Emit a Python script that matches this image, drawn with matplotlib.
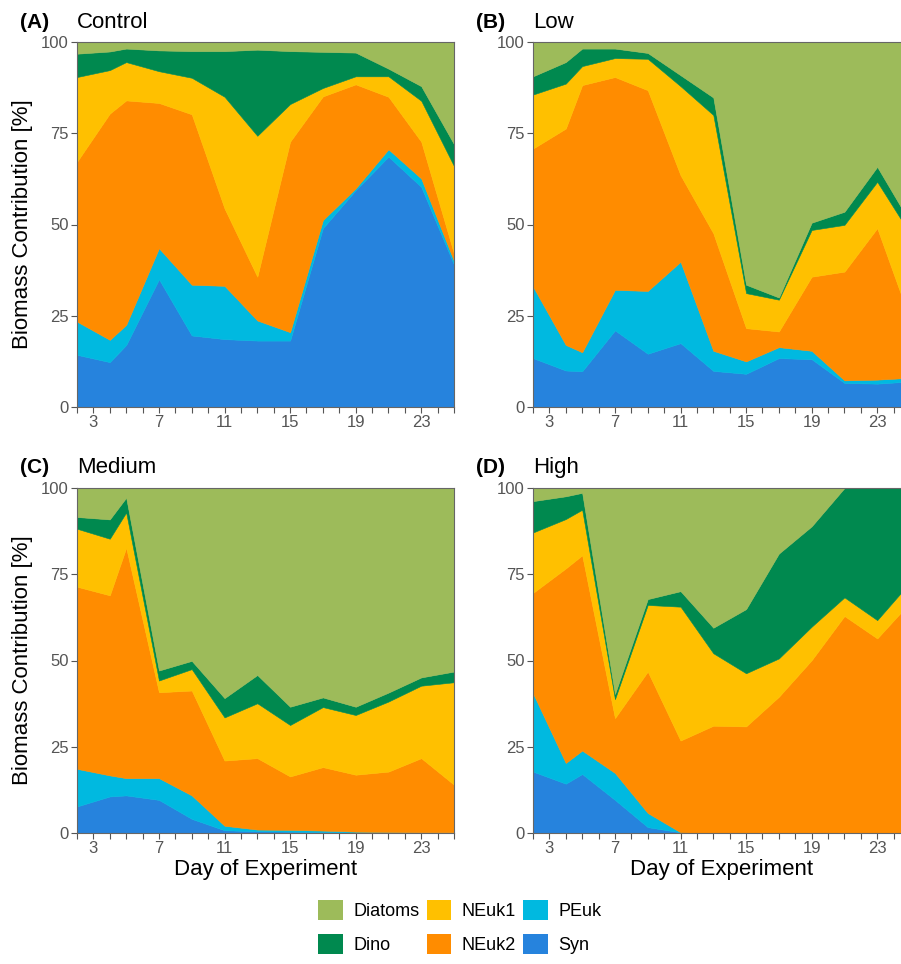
"""
Stacked biomass contribution (%) of six phytoplankton groups over the
experiment, one panel per treatment (Control / Low / Medium / High).
"""
import matplotlib
matplotlib.use("Agg")
import matplotlib.pyplot as plt
from matplotlib.patches import Patch
from matplotlib.ticker import MultipleLocator, FixedLocator

plt.rcParams["font.family"] = ["Liberation Sans", "DejaVu Sans"]

# sampling days
days = [2, 4, 5, 7, 9, 11, 13, 15, 17, 19, 21, 23, 25]

taxa = ["Syn", "PEuk", "NEuk2", "NEuk1", "Dino", "Diatoms"]
colors = {
    "Diatoms": "#9dbb5a",
    "Dino": "#00894f",
    "NEuk1": "#ffc000",
    "NEuk2": "#ff8c00",
    "PEuk": "#00b9e0",
    "Syn": "#2683dd",
}

# (A) Control
syn_control = [14.3, 12.3, 17.0, 35.0, 19.6, 18.6, 18.2, 18.2, 49.0, 59.4, 68.6, 60.3, 39.0]
peuk_control = [9.1, 6.1, 5.5, 8.5, 13.9, 14.6, 5.5, 2.3, 2.2, 0.5, 2.0, 2.3, 1.0]
neuk2_control = [43.8, 62.0, 61.5, 39.8, 46.7, 21.2, 12.0, 52.2, 33.9, 28.5, 14.4, 10.1, 2.0]
neuk1_control = [23.2, 11.9, 10.5, 8.7, 10.0, 30.6, 38.6, 10.3, 2.3, 2.2, 5.6, 11.2, 24.0]
dino_control = [6.4, 5.1, 3.7, 5.7, 7.3, 12.5, 23.6, 14.5, 9.9, 6.5, 2.1, 4.0, 6.0]
diatoms_control = [3.2, 2.6, 1.8, 2.3, 2.5, 2.5, 2.1, 2.5, 2.7, 2.9, 7.3, 12.1, 28.0]

# (B) Low
syn_low = [13.4, 10.0, 9.8, 21.0, 14.6, 17.5, 9.9, 9.1, 13.4, 13.1, 6.6, 6.4, 7.0]
peuk_low = [19.6, 7.0, 5.2, 11.1, 17.2, 22.3, 5.5, 3.4, 3.0, 2.3, 0.7, 1.1, 1.0]
neuk2_low = [37.8, 59.3, 73.2, 58.3, 55.0, 23.7, 32.2, 9.1, 4.3, 20.3, 29.8, 41.5, 16.0]
neuk1_low = [14.8, 12.3, 5.2, 5.2, 8.6, 24.4, 32.4, 9.6, 8.7, 12.8, 12.8, 12.7, 23.5]
dino_low = [5.0, 5.9, 4.8, 2.6, 1.6, 3.0, 4.8, 2.3, 0.6, 2.0, 3.6, 4.1, 3.1]
diatoms_low = [9.4, 5.5, 1.8, 1.8, 3.0, 9.1, 15.2, 66.5, 70.0, 49.5, 46.5, 34.2, 49.4]

# (C) Medium
syn_medium = [7.7, 10.6, 10.9, 9.6, 4.1, 0.8, 0.5, 0.4, 0.3, 0.1, 0.0, 0.0, 0.0]
peuk_medium = [10.9, 6.1, 5.0, 6.3, 6.8, 1.3, 0.5, 0.5, 0.4, 0.3, 0.3, 0.2, 0.2]
neuk2_medium = [52.8, 52.2, 66.8, 24.9, 30.4, 18.9, 20.7, 15.5, 18.4, 16.5, 17.5, 21.5, 13.8]
neuk1_medium = [16.8, 16.4, 10.2, 3.4, 6.2, 12.5, 15.9, 14.9, 17.4, 17.3, 20.3, 21.0, 29.7]
dino_medium = [3.4, 5.6, 4.3, 2.9, 2.4, 5.6, 8.2, 5.3, 2.8, 2.4, 2.6, 2.4, 3.1]
diatoms_medium = [8.4, 9.1, 2.8, 52.9, 50.1, 60.9, 54.2, 63.4, 60.7, 63.4, 59.3, 54.9, 53.2]

# (D) High
syn_high = [17.8, 14.3, 17.1, 9.6, 1.7, 0.2, 0.0, 0.0, 0.0, 0.0, 0.0, 0.0, 0.0]
peuk_high = [22.7, 6.0, 6.8, 7.8, 4.1, 0.0, 0.0, 0.0, 0.0, 0.0, 0.0, 0.0, 0.0]
neuk2_high = [29.1, 56.4, 56.6, 15.9, 41.0, 26.6, 31.1, 30.9, 39.5, 50.1, 62.9, 56.4, 66.8]
neuk1_high = [17.5, 14.3, 13.2, 5.5, 19.3, 38.8, 21.0, 15.4, 11.1, 9.7, 5.4, 5.3, 5.8]
dino_high = [9.1, 6.6, 4.9, 1.5, 1.7, 4.5, 7.4, 18.6, 30.4, 29.1, 31.7, 38.3, 27.4]
diatoms_high = [3.8, 2.4, 1.4, 59.7, 32.2, 29.9, 40.5, 35.1, 19.0, 11.1, 0.0, 0.0, 0.0]

panels = [
    ("(A)", "Control", [syn_control, peuk_control, neuk2_control, neuk1_control, dino_control, diatoms_control]),
    ("(B)", "Low", [syn_low, peuk_low, neuk2_low, neuk1_low, dino_low, diatoms_low]),
    ("(C)", "Medium", [syn_medium, peuk_medium, neuk2_medium, neuk1_medium, dino_medium, diatoms_medium]),
    ("(D)", "High", [syn_high, peuk_high, neuk2_high, neuk1_high, dino_high, diatoms_high]),
]

W, H = 901, 964
fig = plt.figure(figsize=(W / 100, H / 100), dpi=100)

# axes boxes in pixels: left, top, right, bottom (right column runs past the edge)
boxes = [
    (77, 42, 454, 407),
    (533, 42, 910, 407),
    (77, 488, 454, 833),
    (533, 488, 910, 833),
]

GREY = "#555555"
for i, ((tag, name, series), (l, t, r, b)) in enumerate(zip(panels, boxes)):
    ax = fig.add_axes([l / W, 1 - b / H, (r - l) / W, (b - t) / H])
    ax.stackplot(days, *series, colors=[colors[k] for k in taxa],
                 edgecolor="face", linewidth=0.4)
    ax.set_xlim(2, 25)
    ax.set_ylim(0, 100)
    ax.xaxis.set_major_locator(FixedLocator([3, 7, 11, 15, 19, 23]))
    ax.xaxis.set_minor_locator(MultipleLocator(1))
    ax.set_yticks([0, 25, 50, 75, 100])
    ax.tick_params(axis="both", which="both", colors="#555555", labelcolor=GREY,
                   labelsize=12, length=4, width=0.8, pad=2)
    for sp in ax.spines.values():
        sp.set_color("#666666")
        sp.set_linewidth(0.8)

    ty = 1 - (22 if i < 2 else 467) / H
    fig.text((l - 57) / W, ty, tag, fontsize=15, fontweight="bold", va="center")
    fig.text(l / W, ty, name, fontsize=16, va="center")

    if i % 2 == 0:
        ax.set_ylabel("Biomass Contribution [%]", fontsize=16, labelpad=6)
    if i >= 2:
        ax.set_xlabel("Day of Experiment", fontsize=16, labelpad=2)

legend_order = ["Diatoms", "Dino", "NEuk1", "NEuk2", "PEuk", "Syn"]
handles = [Patch(facecolor=colors[k], edgecolor="none", label=k) for k in legend_order]
fig.legend(handles=handles, ncol=3, loc="center", bbox_to_anchor=(460 / W, 1 - 927 / H),
           frameon=False, fontsize=13, handlelength=1.35, handleheight=1.35,
           handletextpad=0.6, columnspacing=0.4, labelspacing=0.75)

fig.savefig("out.png", dpi=100)
